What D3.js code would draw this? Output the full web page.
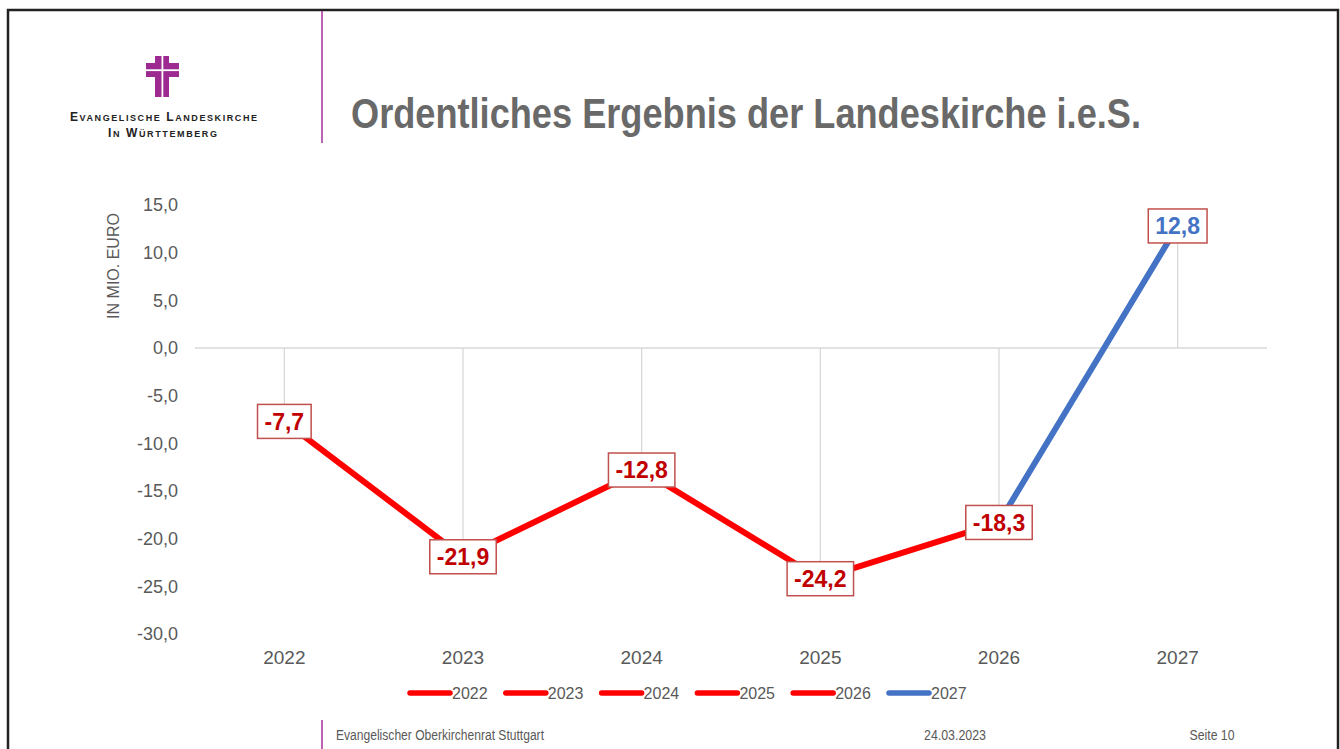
<!DOCTYPE html>
<html lang="de">
	<head>
		<meta charset="utf-8">
		<title>Ordentliches Ergebnis der Landeskirche i.e.S.</title>
		<script type="text/javascript" src="https://cdn.jsdelivr.net/npm/d3@7"></script>
		<style type="text/css">
			body { margin: 0; background: #fff; }
			svg { display: block; font-family: "Liberation Sans", Arial, sans-serif; }
		</style>
	</head>
	<body>
		<script type="text/javascript">

			//Chart data
			let years = ["2022", "2023", "2024", "2025", "2026", "2027"];
			let values = [-7.7, -21.9, -12.8, -24.2, -18.3, 12.8];
			let seriesColors = ["#ff0000", "#ff0000", "#ff0000", "#ff0000", "#ff0000", "#4472c4"];
			let labelColors = ["#c00000", "#c00000", "#c00000", "#c00000", "#c00000", "#4472c4"];
			let yTicks = [15, 10, 5, 0, -5, -10, -15, -20, -25, -30];

			//Width and height
			let w = 1340;
			let h = 749;

			//German number format
			let de = d3.formatLocale({decimal: ",", thousands: ".", grouping: [3], currency: ["", " €"], minus: "-"});
			let fmt = de.format(".1f");

			let svg = d3.select("body")
						.append("svg")
						  .attr("width", w)
						  .attr("height", h);

			//Slide frame
			svg.append("path")
				.attr("d", "M8,749 V10 H1338 V749")
				.attr("fill", "none")
				.attr("stroke", "#222")
				.attr("stroke-width", 2.5);

			//Logo: double cross
			let logo = svg.append("g").attr("fill", "#9c2a90");
			logo.append("rect").attr("x", 155).attr("y", 56).attr("width", 14).attr("height", 41);
			logo.append("rect").attr("x", 146).attr("y", 63).attr("width", 33).attr("height", 14);
			logo.append("rect").attr("x", 161.5).attr("y", 56).attr("width", 1.8).attr("height", 41).attr("fill", "#fff");
			logo.append("rect").attr("x", 146).attr("y", 69.3).attr("width", 33).attr("height", 1.8).attr("fill", "#fff");

			//Logo text in small caps
			function smallCaps(parts, x, y, len) {
				let t = svg.append("text")
					.attr("x", x).attr("y", y)
					.attr("text-anchor", "middle")
					.attr("fill", "#222")
					.attr("font-weight", "bold")
					.attr("textLength", len)
					.attr("lengthAdjust", "spacing");
				parts.forEach((p, i) => {
					t.append("tspan").attr("font-size", 12).text((i ? " " : "") + p[0]);
					t.append("tspan").attr("font-size", 9).text(p.slice(1).toUpperCase());
				});
			}
			smallCaps(["Evangelische", "Landeskirche"], 163.5, 121, 187);
			smallCaps(["In", "Württemberg"], 162.5, 137, 109);

			//Divider lines
			svg.append("line").attr("x1", 322).attr("x2", 322).attr("y1", 11).attr("y2", 143)
				.attr("stroke", "#a3319b").attr("stroke-width", 1.5);
			svg.append("line").attr("x1", 322).attr("x2", 322).attr("y1", 720).attr("y2", 749)
				.attr("stroke", "#a3319b").attr("stroke-width", 1.5);

			//Title
			svg.append("text")
				.attr("x", 351).attr("y", 128)
				.attr("font-size", 42)
				.attr("font-weight", "bold")
				.attr("fill", "#696969")
				.attr("textLength", 790)
				.attr("lengthAdjust", "spacingAndGlyphs")
				.text("Ordentliches Ergebnis der Landeskirche i.e.S.");

			//Scales
			let x = d3.scaleBand()
						.domain(years)
						.range([195, 1267]);
			let y = d3.scaleLinear()
						.domain([-30, 15])
						.range([634, 205]);
			let cx = d => x(d) + x.bandwidth() / 2;

			//Y axis
			svg.append("g")
				.attr("transform", "translate(178,0)")
				.call(d3.axisLeft(y).tickValues(yTicks).tickFormat(fmt).tickSize(0).tickPadding(0))
				.call(g => g.select(".domain").remove())
				.selectAll("text")
				  .attr("font-size", 18)
				  .attr("font-family", "Liberation Sans, Arial, sans-serif")
				  .attr("fill", "#595959");

			svg.append("text")
				.attr("transform", "translate(119,266) rotate(-90)")
				.attr("text-anchor", "middle")
				.attr("font-size", 16)
				.attr("fill", "#595959")
				.text("IN MIO. EURO");

			//X axis labels
			svg.append("g")
				.attr("transform", "translate(0,664)")
				.call(d3.axisBottom(x).tickSize(0).tickPadding(0))
				.call(g => g.select(".domain").remove())
				.selectAll("text")
				  .attr("dy", 0)
				  .attr("font-size", 19)
				  .attr("font-family", "Liberation Sans, Arial, sans-serif")
				  .attr("fill", "#595959");

			//Zero line
			svg.append("line")
				.attr("x1", 195).attr("x2", 1267)
				.attr("y1", y(0)).attr("y2", y(0))
				.attr("stroke", "#d9d9d9").attr("stroke-width", 1.3);

			//Drop lines from zero to each value
			svg.selectAll("line.drop")
				.data(years)
				.enter()
			  .append("line")
				.attr("class", "drop")
				.attr("x1", d => cx(d)).attr("x2", d => cx(d))
				.attr("y1", y(0))
				.attr("y2", (d, i) => y(values[i]))
				.attr("stroke", "#d9d9d9").attr("stroke-width", 1.3);

			//Line segments, each coloured by the year it ends in
			svg.selectAll("line.seg")
				.data(years.slice(1))
				.enter()
			  .append("line")
				.attr("class", "seg")
				.attr("x1", (d, i) => cx(years[i]))
				.attr("y1", (d, i) => y(values[i]))
				.attr("x2", d => cx(d))
				.attr("y2", (d, i) => y(values[i + 1]))
				.attr("stroke", (d, i) => seriesColors[i + 1])
				.attr("stroke-width", 6)
				.attr("stroke-linecap", "round");

			//Data labels in boxes
			let labels = svg.selectAll("g.lab")
				.data(years)
				.enter()
			  .append("g")
				.attr("class", "lab")
				.attr("transform", (d, i) => `translate(${cx(d)},${y(values[i])})`);

			labels.append("rect")
				.attr("fill", "#fff")
				.attr("stroke", "#c0504d")
				.attr("stroke-width", 1.5);

			labels.append("text")
				.attr("text-anchor", "middle")
				.attr("dy", "0.36em")
				.attr("font-size", 23)
				.attr("font-weight", "bold")
				.attr("fill", (d, i) => labelColors[i])
				.text((d, i) => fmt(values[i]));

			labels.each(function() {
				let g = d3.select(this);
				let tw = g.select("text").node().getComputedTextLength();
				g.select("rect")
					.attr("x", -tw / 2 - 7)
					.attr("y", -17)
					.attr("width", tw + 14)
					.attr("height", 34);
			});

			//Legend
			let legend = svg.selectAll("g.leg")
				.data(years)
				.enter()
			  .append("g")
				.attr("class", "leg")
				.attr("transform", (d, i) => `translate(${410 + i * 95.8},693)`);

			legend.append("line")
				.attr("x1", 0).attr("x2", 40)
				.attr("stroke", (d, i) => seriesColors[i])
				.attr("stroke-width", 5.5)
				.attr("stroke-linecap", "round");

			legend.append("text")
				.attr("x", 42)
				.attr("dy", "0.35em")
				.attr("font-size", 16)
				.attr("fill", "#595959")
				.text(d => d);

			//Footer
			let footer = [
				{text: "Evangelischer Oberkirchenrat Stuttgart", x: 336, anchor: "start", len: 208},
				{text: "24.03.2023", x: 955, anchor: "middle", len: 62},
				{text: "Seite 10", x: 1212, anchor: "middle", len: 45}
			];
			svg.selectAll("text.foot")
				.data(footer)
				.enter()
			  .append("text")
				.attr("class", "foot")
				.attr("x", d => d.x)
				.attr("y", 740)
				.attr("text-anchor", d => d.anchor)
				.attr("font-size", 14)
				.attr("fill", "#595959")
				.attr("textLength", d => d.len)
				.attr("lengthAdjust", "spacingAndGlyphs")
				.text(d => d.text);

		</script>
	</body>
</html>
